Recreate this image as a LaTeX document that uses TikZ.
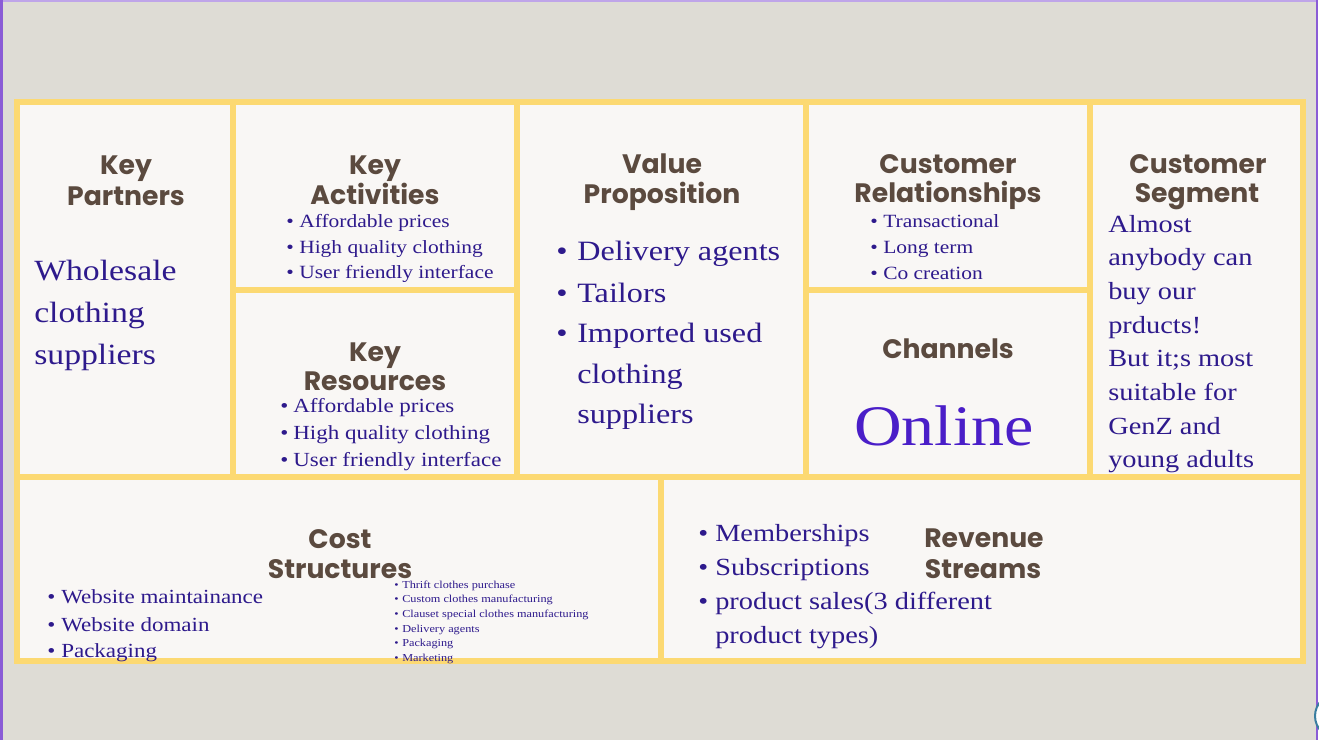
\documentclass[tikz,border=0pt]{standalone}
\usepackage{fontspec}
\setmainfont{Liberation Serif}[FakeStretch=1.15]
\newfontfamily\ttlfont{Poppins}
\definecolor{bgc}{HTML}{DEDCD5}
\definecolor{cellc}{HTML}{F9F7F5}
\definecolor{ylw}{HTML}{FCD972}
\definecolor{brn}{HTML}{5B4A3F}
\definecolor{txt}{HTML}{2E1A8C}
\definecolor{onl}{HTML}{4A1EC8}
\definecolor{purp}{HTML}{8A5CD6}
\definecolor{circ}{HTML}{3A7EA0}
\tikzset{
  ttl/.style={anchor=base, inner sep=0pt, text=brn, font=\ttlfont\bfseries\fontsize{20}{24}\selectfont},
  body/.style={anchor=base west, inner sep=0pt, text=txt},
  grid/.style={draw=ylw, line width=4.5pt},
}
% bullet line: name, bullet x, text x, baseline y, font size, text
\newcommand\bline[6]{%
  \node[body, font=\fontsize{#5}{#5}\selectfont] (#1b) at (#2,#4) {\textbullet};
  \node[body, font=\fontsize{#5}{#5}\selectfont] (#1) at (#3,#4) {#6};}
\begin{document}
\begin{tikzpicture}[x=0.75pt,y=-0.75pt]
\useasboundingbox (0,0) rectangle (1319,740);
\fill[bgc] (0,0) rectangle (1319,740);
\fill[purp!55] (0,0) rectangle (1319,1.5);
\fill[purp] (0,0) rectangle (2.5,740);
\fill[purp] (1316,0) rectangle (1318,740);
\fill[white] (1318,0) rectangle (1319,740);
\draw[circ, fill=white, line width=1.5pt] (1337,716) circle (22);
% cells
\fill[cellc] (17,102) rectangle (1303,661);
\draw[grid] (17,102) rectangle (1303,661);
\draw[grid] (233,102) -- (233,477);
\draw[grid] (517,102) -- (517,477);
\draw[grid] (806,102) -- (806,477);
\draw[grid] (1090,102) -- (1090,477);
\draw[grid] (233,290) -- (517,290);
\draw[grid] (806,290) -- (1090,290);
\draw[grid] (17,477) -- (1303,477);
\draw[grid] (661,477) -- (661,661);
% Key Partners
\node[ttl] (kp1) at (126,174) {Key};
\node[ttl] (kp2) at (126,205) {Partners};
\node[body, font=\fontsize{22}{22}\selectfont] (kpa) at (34,280) {Wholesale};
\node[body, font=\fontsize{22}{22}\selectfont] (kpb) at (34,322) {clothing};
\node[body, font=\fontsize{22}{22}\selectfont] (kpc) at (34,364) {suppliers};
% Key Activities
\node[ttl] (ka1) at (375,174) {Key};
\node[ttl] (ka2) at (375,204) {Activities};
\bline{kaa}{286}{299}{227}{14}{Affordable prices}
\bline{kab}{286}{299}{253}{14}{High quality clothing}
\bline{kac}{286}{299}{278}{14}{User friendly interface}
% Key Resources
\node[ttl] (kr1) at (375,361) {Key};
\node[ttl] (kr2) at (375,390) {Resources};
\bline{kra}{280}{293}{412}{15}{Affordable prices}
\bline{krb}{280}{293}{439}{15}{High quality clothing}
\bline{krc}{280}{293}{466}{15}{User friendly interface}
% Value Proposition
\node[ttl] (vp1) at (662,173) {Value};
\node[ttl] (vp2) at (662,203) {Proposition};
\bline{vpa}{556}{577}{260}{21}{Delivery agents}
\bline{vpb}{556}{577}{302}{21}{Tailors}
\bline{vpc}{556}{577}{342}{21}{Imported used}
\node[body, font=\fontsize{21}{21}\selectfont] (vpd) at (577,383) {clothing};
\node[body, font=\fontsize{21}{21}\selectfont] (vpe) at (577,423) {suppliers};
% Customer Relationships
\node[ttl] (cr1) at (948,173) {Customer};
\node[ttl] (cr2) at (948,202) {Relationships};
\bline{cra}{870}{883}{227}{14}{Transactional}
\bline{crb}{870}{883}{253}{14}{Long term}
\bline{crc}{870}{883}{279}{14}{Co creation}
% Channels
\node[ttl] (ch1) at (948,358) {Channels};
\node[anchor=base, inner sep=0pt, text=onl, font=\fontsize{43}{43}\selectfont] (ch2) at (944,445) {Online};
% Customer Segment
\node[ttl] (cs1) at (1198,173) {Customer};
\node[ttl] (cs2) at (1197,202) {Segment};
\foreach \t [count=\i from 0] in {Almost, anybody can, buy our, prducts!, But it;s most, suitable for, GenZ and, young adults}
  \node[body, font=\fontsize{18.5}{18.5}\selectfont] (cs\i) at (1108,232+33.7*\i) {\t};
% Cost Structures
\node[ttl] (co1) at (340,548) {Cost};
\node[ttl] (co2) at (340,578) {Structures};
\bline{coa}{47}{61}{603}{15}{Website maintainance}
\bline{cob}{47}{61}{631}{15}{Website domain}
\bline{coc}{47}{61}{657}{15}{Packaging}
\bline{cod}{394}{402}{588}{8}{Thrift clothes purchase}
\bline{coe}{394}{402}{602}{8}{Custom clothes manufacturing}
\bline{cof}{394}{402}{617}{8}{Clauset special clothes manufacturing}
\bline{cog}{394}{402}{632}{8}{Delivery agents}
\bline{coh}{394}{402}{646}{8}{Packaging}
\bline{coi}{394}{402}{661}{8}{Marketing}
% Revenue Streams
\node[ttl] (rs1) at (984,547) {Revenue};
\node[ttl] (rs2) at (983,578) {Streams};
\bline{rsa}{698}{715}{541}{18.5}{Memberships}
\bline{rsb}{698}{715}{575}{18.5}{Subscriptions}
\bline{rsc}{698}{715}{609}{18.5}{product sales(3 different}
\node[body, font=\fontsize{18.5}{18.5}\selectfont] (rsd) at (715,643) {product types)};
\end{tikzpicture}
\end{document}
